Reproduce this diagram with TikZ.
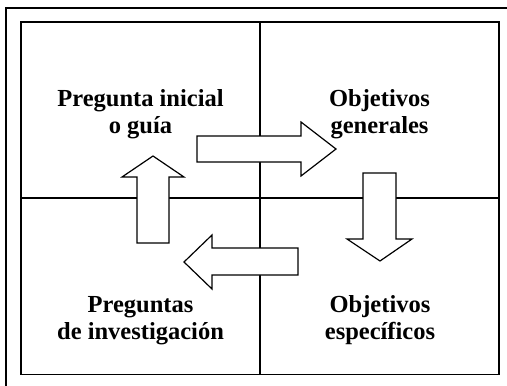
\documentclass[tikz,border=0pt]{standalone}
\usepackage{fontspec}
\setmainfont{Liberation Serif}
\begin{document}
\begin{tikzpicture}[x=1pt,y=-1pt,
  frame/.style={line width=1.6pt},
  divider/.style={line width=1.3pt},
  bigarrow/.style={draw=black,fill=white,line width=1.2pt,line join=miter},
  label/.style={align=center,anchor=base,font=\fontsize{24.5}{27}\selectfont\bfseries,inner sep=0pt}]
\useasboundingbox (0,0) rectangle (507,386);
\begin{scope}
\clip (0,0) rectangle (507,386);
\draw[line width=2pt] (6.3,7.5) rectangle (530,410);
\end{scope}
\coordinate (tl) at (21,22);
\coordinate (br) at (499,374.5);
\coordinate (vt) at (260,22);
\coordinate (vb) at (260,374.5);
\coordinate (hl) at (21,198);
\coordinate (hr) at (499,198);
\draw[divider] (vt) -- (vb);
\draw[divider] (hl) -- (hr);
\draw[frame] (tl) rectangle (br);
% arrows
\draw[bigarrow] (197,136) -- (301,136) -- (301,122) -- (336,149) -- (301,176) -- (301,162) -- (197,162) -- cycle;
\draw[bigarrow] (363,173) -- (396,173) -- (396,239) -- (412,239) -- (380,261) -- (347,239) -- (363,239) -- cycle;
\draw[bigarrow] (298,248) -- (212,248) -- (212,235) -- (184,262) -- (212,289) -- (212,275) -- (298,275) -- cycle;
\draw[bigarrow] (137,243) -- (137,177) -- (122,177) -- (153,156) -- (184,177) -- (169,177) -- (169,243) -- cycle;
% labels
\node[label] (pi) at (140.5,133) {Pregunta inicial\\o guía};
\node[label] (og) at (379.5,133) {Objetivos\\generales};
\node[label] (pq) at (140.5,339) {Preguntas\\de investigación};
\node[label] (oe) at (380,339) {Objetivos\\específicos};
\end{tikzpicture}
\end{document}
